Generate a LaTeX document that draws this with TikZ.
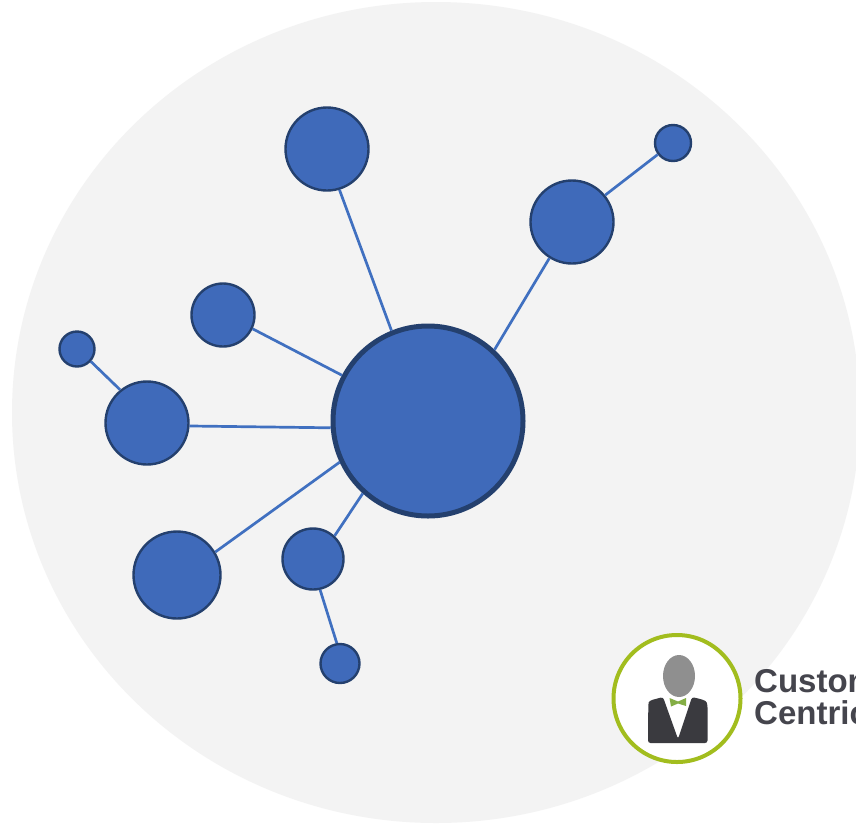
\documentclass[tikz,border=0pt]{standalone}
\usepackage{fontspec}
\setmainfont{Liberation Sans}
\definecolor{bgc}{HTML}{F3F3F3}
\definecolor{blu}{HTML}{3F6ABA}
\definecolor{edgeb}{HTML}{24406E}
\definecolor{linkc}{HTML}{4070C0}
\definecolor{ringg}{HTML}{A2BD1E}
\definecolor{bowg}{HTML}{84AE45}
\definecolor{darkc}{HTML}{3A3A3F}
\definecolor{headc}{HTML}{8F8F8F}
\definecolor{textc}{HTML}{45454D}
\tikzset{
  x=1pt,y=-1pt,
  dot/.style={circle,draw=edgeb,fill=blu,line width=2.4pt,inner sep=0pt,minimum size=#1},
  hubdot/.style={circle,draw=edgeb,fill=blu,line width=5pt,inner sep=0pt,minimum size=#1},
  link/.style={draw=linkc,line width=2.7pt},
  logotext/.style={font=\bfseries\fontsize{33}{33}\selectfont,text=textc,anchor=west,inner sep=0pt,align=left}
}
\begin{document}
\begin{tikzpicture}
\useasboundingbox (0,0) rectangle (856,823);
\clip (0,0) rectangle (856,823);
\fill[white] (0,0) rectangle (856,823);
\fill[bgc] (436,412.5) ellipse [x radius=424pt,y radius=410.5pt];
\node[hubdot=190pt] (hub) at (428,421) {};
\node[dot=83pt] (n1) at (327,149) {};
\node[dot=83pt] (n2) at (572,222) {};
\node[dot=36pt] (n3) at (673,143) {};
\node[dot=63pt] (n4) at (223,315) {};
\node[dot=35pt] (n5) at (77,349) {};
\node[dot=83pt] (n6) at (147,423) {};
\node[dot=87pt] (n7) at (177,575) {};
\node[dot=61pt] (n8) at (313,559) {};
\node[dot=39pt] (n9) at (340,663.5) {};
\draw[link] (n1.-73.7) -- (hub.112.1);
\draw[link] (n2.-122.2) -- (hub.47.1);
\draw[link] (n2.39.3) -- (n3.217.6);
\draw[link] (n4.-25.8) -- (hub.152.6);
\draw[link] (n5.-42.9) -- (n6.129.3);
\draw[link] (n6.-4.1) -- (hub.184.7);
\draw[link] (n7.31.9) -- (hub.205);
\draw[link] (n8.47.7) -- (hub.228.7);
\draw[link] (n8.-77.3) -- (n9.99.5);
% logo
\draw[ringg,fill=white,line width=4pt] (677,698.5) circle [radius=63.5pt];
\fill[darkc,rounded corners=2.5pt] (648,743) -- (648.3,705) .. controls (649,700) and (656,699) .. (663,697)
  -- (678,739) -- (692,697) .. controls (700,699) and (706,700) .. (707.5,705) -- (707.5,743) -- cycle;
\fill[headc] (679,676) ellipse [x radius=16pt,y radius=21pt];
\fill[bowg] (669.5,698) -- (678,701.5) -- (686,698) -- (686,706) -- (678,703.5) -- (671,706.5) -- cycle;
\node[logotext] (brand) at (754,697) {Customer\\[-1pt]Centric};
\end{tikzpicture}
\end{document}
